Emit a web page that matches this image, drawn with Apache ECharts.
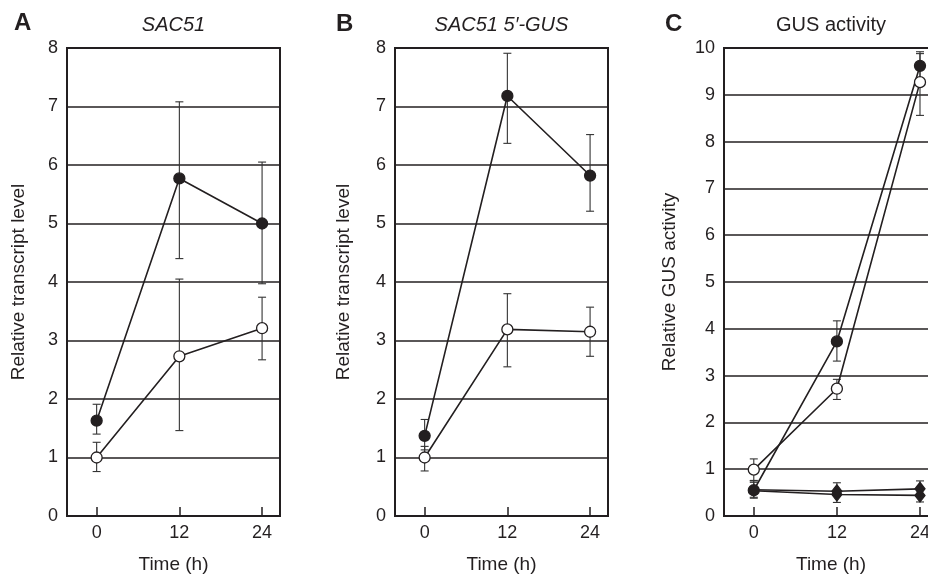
<!DOCTYPE html>
<html>
<head>
<meta charset="utf-8">
<script src="https://cdn.jsdelivr.net/npm/echarts@6/dist/echarts.min.js"></script>
<style>
  html, body { margin: 0; padding: 0; background: #fff; }
  #main { width: 928px; height: 575px; }
</style>
</head>
<body>
<div id="main"></div>
<script>
// time points (h)
const hours = [0, 12, 24];
const xTicks = [0, 12, 24];

// panel A - SAC51
const aFilled = [1.63, 5.77, 5.0];
const aFilledLow = [1.40, 4.40, 3.97];
const aFilledHigh = [1.91, 7.08, 6.05];
const aOpen = [1.0, 2.73, 3.21];
const aOpenLow = [0.76, 1.46, 2.67];
const aOpenHigh = [1.26, 4.05, 3.74];

// panel B - SAC51 5'-GUS
const bFilled = [1.37, 7.18, 5.82];
const bFilledLow = [1.13, 6.37, 5.21];
const bFilledHigh = [1.65, 7.91, 6.52];
const bOpen = [1.0, 3.19, 3.15];
const bOpenLow = [0.77, 2.55, 2.73];
const bOpenHigh = [1.19, 3.80, 3.57];

// panel C - GUS activity
const cFilled = [0.55, 3.73, 9.62];
const cFilledLow = [0.38, 3.31, 9.30];
const cFilledHigh = [0.75, 4.17, 9.92];
const cOpen = [0.99, 2.72, 9.27];
const cOpenLow = [0.76, 2.49, 8.56];
const cOpenHigh = [1.22, 2.92, 9.88];
const cDiamond = [0.56, 0.53, 0.58];
const cDiamondLow = [0.40, 0.29, 0.30];
const cDiamondHigh = [0.72, 0.71, 0.75];
const cDiamond2 = [0.54, 0.46, 0.44];

const ink = '#231f20';
const font = 'Liberation Sans, Arial, Helvetica, sans-serif';

const myChart = echarts.init(document.getElementById('main'));

function pairs(vals, hideFirst) {
    return hours.map((h, i) => {
        if (hideFirst && i === 0) return { value: [h, vals[i]], symbol: 'none' };
        return [h, vals[i]];
    });
}
function bars(lo, hi) {
    return hours.map((h, i) => [h, lo[i], hi[i]]);
}

function renderErr(params, api) {
    const x = api.value(0);
    const p1 = api.coord([x, api.value(1)]);
    const p2 = api.coord([x, api.value(2)]);
    const w = 4;
    const st = { stroke: '#333', lineWidth: 1.1 };
    return {
        type: 'group',
        children: [
            { type: 'line', shape: { x1: p1[0], y1: p1[1], x2: p2[0], y2: p2[1] }, style: st },
            { type: 'line', shape: { x1: p1[0] - w, y1: p1[1], x2: p1[0] + w, y2: p1[1] }, style: st },
            { type: 'line', shape: { x1: p2[0] - w, y1: p2[1], x2: p2[0] + w, y2: p2[1] }, style: st }
        ]
    };
}

function errSeries(idx, lo, hi) {
    return {
        type: 'custom',
        xAxisIndex: idx,
        yAxisIndex: idx,
        renderItem: renderErr,
        encode: { x: 0, y: [1, 2] },
        data: bars(lo, hi),
        z: 2,
        silent: true
    };
}

function lineSeries(idx, vals, filled, symbol) {
    const dia = symbol === 'diamond';
    return {
        type: 'line',
        xAxisIndex: idx,
        yAxisIndex: idx,
        data: pairs(vals, dia),
        symbol: symbol || 'circle',
        symbolSize: dia ? [10, 13] : 11,
        showAllSymbol: true,
        lineStyle: { color: ink, width: 1.6 },
        itemStyle: { color: filled ? ink : '#fff', borderColor: ink, borderWidth: 1.3 },
        z: 3,
        animation: false
    };
}

const grids = [
    { left: 67, top: 48, width: 213, height: 468 },
    { left: 395, top: 48, width: 213, height: 468 },
    { left: 724, top: 48, width: 214, height: 468 }
];

function xAx(idx) {
    return {
        type: 'value',
        gridIndex: idx,
        min: -4.3,
        max: 26.6,
        name: 'Time (h)',
        nameLocation: 'middle',
        nameGap: 39,
        nameTextStyle: { fontFamily: font, fontSize: 19, color: ink },
        axisLine: { show: false },
        axisTick: { show: true, inside: true, length: 9, customValues: xTicks, lineStyle: { color: ink, width: 1.5 } },
        axisLabel: { customValues: xTicks, margin: 8, fontFamily: font, fontSize: 18, color: ink },
        splitLine: { show: false }
    };
}

function yAx(idx, max, name, gap) {
    return {
        type: 'value',
        gridIndex: idx,
        min: 0,
        max: max,
        interval: 1,
        name: name,
        nameLocation: 'middle',
        nameGap: gap,
        nameTextStyle: { fontFamily: font, fontSize: 19, color: ink },
        axisLine: { show: false },
        axisTick: { show: false },
        axisLabel: { margin: 9, fontFamily: font, fontSize: 18, color: ink },
        splitLine: { show: true, lineStyle: { color: ink, width: 1.6 } }
    };
}

function txt(x, y, text, size, weight, style, align) {
    return {
        type: 'text',
        x: x,
        y: y,
        style: {
            text: text,
            fontFamily: font,
            fontSize: size,
            fontWeight: weight || 'normal',
            fontStyle: style || 'normal',
            fill: ink,
            textAlign: align || 'center',
            textVerticalAlign: 'middle'
        }
    };
}

const option = {
    backgroundColor: '#fff',
    animation: false,
    grid: grids.map(g => Object.assign({
        show: true,
        borderColor: ink,
        borderWidth: 2,
        backgroundColor: 'transparent',
        containLabel: false,
        outerBoundsMode: 'none'
    }, g)),
    xAxis: [xAx(0), xAx(1), xAx(2)],
    yAxis: [
        yAx(0, 8, 'Relative transcript level', 39),
        yAx(1, 8, 'Relative transcript level', 42),
        yAx(2, 10, 'Relative GUS activity', 45)
    ],
    graphic: [
        txt(14, 23, 'A', 24, 'bold', 'normal', 'left'),
        txt(173.5, 25, 'SAC51', 20, 'normal', 'italic'),
        txt(336, 24, 'B', 24, 'bold', 'normal', 'left'),
        txt(501.5, 25, 'SAC51 5\u2032-GUS', 20, 'normal', 'italic'),
        txt(665, 24, 'C', 24, 'bold', 'normal', 'left'),
        txt(831, 25, 'GUS activity', 20)
    ],
    series: [
        errSeries(0, aFilledLow, aFilledHigh),
        errSeries(0, aOpenLow, aOpenHigh),
        lineSeries(0, aFilled, true),
        lineSeries(0, aOpen, false),

        errSeries(1, bFilledLow, bFilledHigh),
        errSeries(1, bOpenLow, bOpenHigh),
        lineSeries(1, bFilled, true),
        lineSeries(1, bOpen, false),

        errSeries(2, cFilledLow, cFilledHigh),
        errSeries(2, cOpenLow, cOpenHigh),
        errSeries(2, cDiamondLow, cDiamondHigh),
        lineSeries(2, cDiamond2, true, 'diamond'),
        lineSeries(2, cDiamond, true, 'diamond'),
        lineSeries(2, cFilled, true),
        lineSeries(2, cOpen, false)
    ]
};

myChart.setOption(option);
</script>
</body>
</html>
